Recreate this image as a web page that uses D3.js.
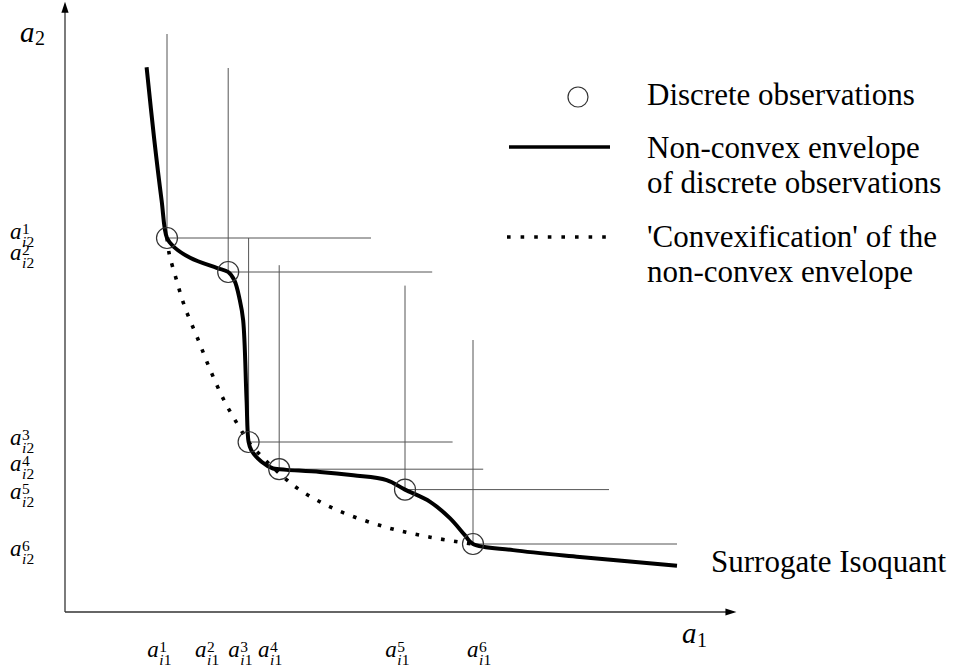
<!DOCTYPE html>
<html>
<head>
<meta charset="utf-8">
<script src="https://cdn.jsdelivr.net/npm/d3@7"></script>
<style>
  body { margin: 0; background: #fff; }
  svg { display: block; }
</style>
</head>
<body>
<script>
// discrete observations (a1, a2)
var obsX = [15, 24, 27, 31.5, 50, 60];
var obsY = [55, 50, 25, 21, 18, 10];
var obsLabels = ["1", "2", "3", "4", "5", "6"];
var arm = 30; // length of the L shaped isoquant arms

// non-convex envelope (surrogate isoquant)
var envX = [12.0, 13.1, 14.2, 15, 16.0, 18.4, 22.3, 24, 24.9, 25.7, 26.2, 26.7, 27, 27.4, 28.9, 30.6, 31.5, 32.6, 37.5, 42.4, 47.3, 50, 53.7, 56.6, 58.8, 60, 65.9, 75.7, 90];
var envY = [80.1, 69.7, 60.6, 55, 53.7, 52.1, 50.6, 50, 48.8, 45.9, 42.9, 31.2, 25, 23.8, 22.1, 21.1, 21, 20.9, 20.6, 20.1, 19.4, 18, 16.2, 13.8, 11.3, 10, 9.1, 8.1, 6.8];

// convexification
var hullX = [15, 15.3, 16.4, 17.6, 19.6, 21.4, 23.5, 25.8, 27, 29.2, 31.5, 34.6, 40, 47.1, 53.7, 60];
var hullY = [55, 52.8, 48.8, 44.9, 40, 35.5, 30.9, 26.9, 25, 22.6, 20.4, 17.9, 15, 12.5, 11, 10];

// where the tick labels sit
var xLabelAt = [12.1, 19.1, 24.0, 28.4, 47.1, 59.1];
var yLabelAt = [54.85, 51.8, 24.6, 20.7, 16.6, 8.2];

var legendText = [
  ["Discrete observations"],
  ["Non-convex envelope", "of discrete observations"],
  ["'Convexification' of the", "non-convex envelope"]
];

var serif = "Liberation Serif";
var width = 958, height = 668;

var x = d3.scaleLinear().domain([0, 100]).range([65, 745]);
var y = d3.scaleLinear().domain([0, 90]).range([612, 0]);

var svg = d3.select("body").append("svg")
    .attr("width", width)
    .attr("height", height);

function txt(g, px, py, size, s, italic) {
  return g.append("text")
      .attr("x", px).attr("y", py)
      .style("font-family", serif)
      .style("font-size", size + "px")
      .style("font-style", italic ? "italic" : "normal")
      .text(s);
}

// axes with arrow heads
var axisG = svg.append("g");
axisG.append("line")
    .attr("x1", x(0)).attr("y1", y(0))
    .attr("x2", x(0)).attr("y2", y(89.3))
    .attr("stroke", "#444").attr("stroke-width", 1.4);
axisG.append("line")
    .attr("x1", x(0)).attr("y1", y(0))
    .attr("x2", x(98.3)).attr("y2", y(0))
    .attr("stroke", "#333").attr("stroke-width", 1.4);
axisG.append("path")
    .attr("d", "M" + x(0) + "," + (y(89.3) - 3) + " l-3.6,11 l7.2,0 z")
    .attr("fill", "#000");
axisG.append("path")
    .attr("d", "M" + (x(98.3) + 3) + "," + y(0) + " l-11,-3.6 l0,7.2 z")
    .attr("fill", "#000");

// L shaped arms
var armG = svg.append("g").attr("stroke", "#555").attr("stroke-width", 1);
obsX.forEach(function(d, i) {
  armG.append("line")
      .attr("x1", x(d)).attr("y1", y(obsY[i]))
      .attr("x2", x(d)).attr("y2", y(obsY[i] + arm));
  armG.append("line")
      .attr("x1", x(d)).attr("y1", y(obsY[i]))
      .attr("x2", x(d + arm)).attr("y2", y(obsY[i]));
});

var line = d3.line()
    .x(function(d) { return x(d[0]); })
    .y(function(d) { return y(d[1]); })
    .curve(d3.curveCatmullRom.alpha(0.5));

svg.append("path")
    .attr("d", line(hullX.map(function(d, i) { return [d, hullY[i]]; })))
    .attr("fill", "none")
    .attr("stroke", "#000")
    .attr("stroke-width", 3.6)
    .attr("stroke-dasharray", "3.6 9.4");

svg.append("path")
    .attr("d", line(envX.map(function(d, i) { return [d, envY[i]]; })))
    .attr("fill", "none")
    .attr("stroke", "#000")
    .attr("stroke-width", 4)
    .attr("stroke-linejoin", "round");

svg.append("g").selectAll("circle")
    .data(obsX)
    .enter().append("circle")
    .attr("cx", function(d) { return x(d); })
    .attr("cy", function(d, i) { return y(obsY[i]); })
    .attr("r", 10.5)
    .attr("fill", "none")
    .attr("stroke", "#333")
    .attr("stroke-width", 1.2);

// math labels: a^k_{i j}
function mathLabel(g, px, py, sup, sub) {
  var t = g.append("g").attr("transform", "translate(" + px + "," + py + ")");
  txt(t, 0, 0, 23, "a", true);
  txt(t, 12, -5, 15.5, sup, false);
  txt(t, 12, 8, 15.5, "i", true);
  txt(t, 16.5, 8, 15.5, sub, false);
}

var labG = svg.append("g");
obsLabels.forEach(function(k, i) {
  mathLabel(labG, x(xLabelAt[i]), 657, k, "1");
  mathLabel(labG, 10, y(yLabelAt[i]), k, "2");
});

// axis titles
txt(svg, 20, 42, 29, "a", true);
txt(svg, 35, 45, 20, "2", false);
txt(svg, 682, 643, 29, "a", true);
txt(svg, 697, 647, 20, "1", false);

txt(svg, 711, 572, 31, "Surrogate Isoquant", false);

// legend
var leg = svg.append("g");
leg.append("circle")
    .attr("cx", 578).attr("cy", 97).attr("r", 10)
    .attr("fill", "none").attr("stroke", "#333").attr("stroke-width", 1.2);
leg.append("line")
    .attr("x1", 509).attr("x2", 610).attr("y1", 147).attr("y2", 147)
    .attr("stroke", "#000").attr("stroke-width", 3.6);
leg.append("line")
    .attr("x1", 507).attr("x2", 612).attr("y1", 237).attr("y2", 237)
    .attr("stroke", "#000").attr("stroke-width", 3.6)
    .attr("stroke-dasharray", "3.6 10");

var legBase = [105, 158, 247];
legendText.forEach(function(lines, i) {
  lines.forEach(function(s, j) {
    txt(leg, 647, legBase[i] + j * 35, 31, s, false);
  });
});
</script>
</body>
</html>
